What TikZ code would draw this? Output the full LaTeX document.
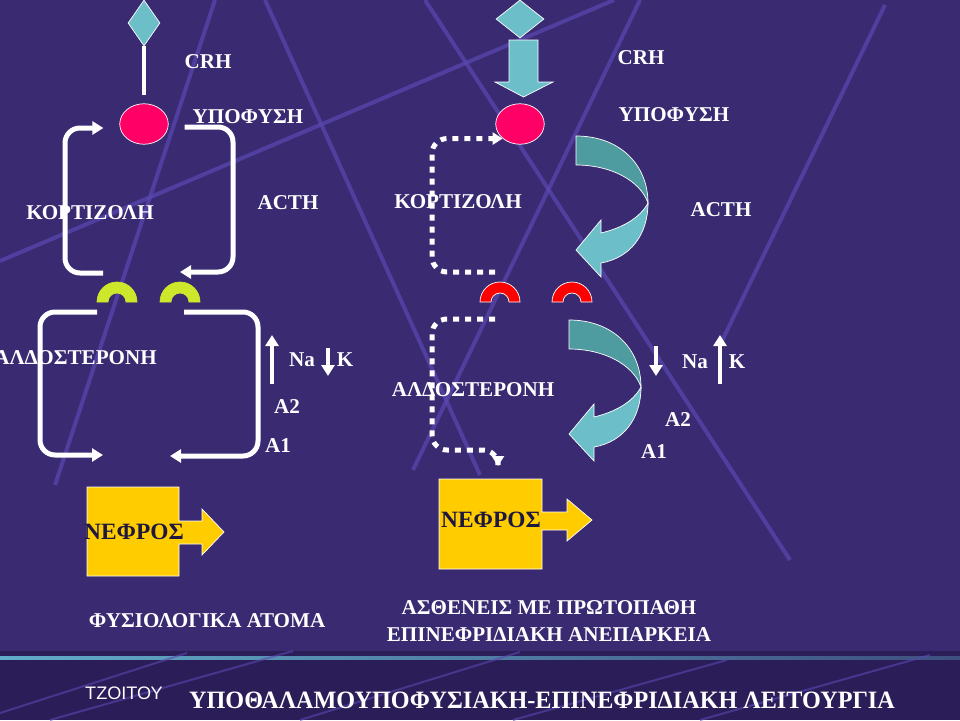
\documentclass[tikz,border=0pt]{standalone}
\usepackage{fontspec}
\setmainfont{Liberation Serif}
\setsansfont{Liberation Sans}
\newfontfamily\titlefont[FakeStretch=0.97]{Liberation Serif}
\usetikzlibrary{arrows.meta,shapes.geometric}

\definecolor{bgpurple}{HTML}{3A2A72}
\definecolor{bandpurple}{HTML}{2B1D58}
\definecolor{stripecol}{HTML}{5A48B2}
\definecolor{bandline}{HTML}{62ADC8}
\definecolor{crhteal}{HTML}{6CBFC9}
\definecolor{darkteal}{HTML}{4E9C9F}
\definecolor{hypopink}{HTML}{FF0066}
\definecolor{limegreen}{HTML}{CDE82A}
\definecolor{kidyellow}{HTML}{FFCC00}
\definecolor{kidtext}{HTML}{1E1840}

\begin{document}
\begin{tikzpicture}[x=0.02cm, y=-0.02cm,
  lbl/.style={text=white, font=\fontsize{12}{14}\selectfont\bfseries, inner sep=0pt},
  kidtxt/.style={text=kidtext, font=\fontsize{13.3}{16}\selectfont\bfseries, inner sep=0pt},
  hormone/.style={diamond, draw=white, fill=crhteal, inner sep=0pt},
  gland/.style={ellipse, draw=white, fill=hypopink, inner sep=0pt, minimum width=0.97cm, minimum height=0.81cm},
  loopline/.style={draw=white, line width=0.1cm, rounded corners=0.3cm, -{Triangle[length=0.22cm,width=0.26cm]}},
  dotloop/.style={draw=white, line width=0.1cm, rounded corners=0.3cm, dash pattern=on 0.12cm off 0.12cm, -{Triangle[length=0.2cm,width=0.24cm]}},
  ionarrow/.style={draw=white, line width=0.08cm, -{Triangle[length=0.22cm,width=0.26cm]}},
  kidney/.style={draw=white, line width=0.4pt, fill=kidyellow},
  stripe/.style={draw=stripecol, line width=0.08cm, opacity=0.7},
]
\fill[bgpurple] (0,0) rectangle (960,720);
\useasboundingbox (0,0) rectangle (960,720);
\clip (0,0) rectangle (960,720);

% background
\draw[stripe] (0,261) -- (614,0);
\draw[stripe] (425,0) -- (790,560);
\draw[stripe] (265,0) -- (480,475);
\draw[stripe] (215,0) -- (55,485);
\draw[stripe] (640,0) -- (413,470);
\draw[stripe] (885,5) -- (720,345);
\fill[bandpurple] (0,651) rectangle (960,720);
\shade[left color=bandline, right color=bandline!35!bandpurple] (0,656) rectangle (960,659);
\foreach \xa/\ya/\xb/\yb in {0/713/187/653, 50/720/293/651, 300/720/520/652, 513/720/727/660, 700/720/930/655}
  \draw[stripecol, line width=0.04cm, opacity=0.6] (\xa,\ya) -- (\xb,\yb);

% receptors
\foreach \n/\cx/\col/\edge in {r1/117/limegreen/limegreen, r2/180/limegreen/limegreen, r3/500/red/white, r4/572/red/white} {
  \filldraw[fill=\col, draw=\edge, line width=0.4pt] (\cx-20,302) arc (180:360:20) -- (\cx+9,302) arc (0:-180:9) -- cycle;
  \coordinate (\n) at (\cx,282);
}

% normal subjects
\node[hormone, minimum width=0.64cm, minimum height=0.92cm] (crh1) at (144,23) {};
\node[gland] (hypo1) at (144,124) {};
\draw[white, line width=0.08cm, shorten >=0.16cm] (crh1.south) -- (hypo1.north);
\draw[loopline] ([shift={(-14,-9)}]r1) -| (65,200) |- ([shift={(-16,4)}]hypo1.west);
\draw[loopline] ([shift={(16,3)}]hypo1.east) -| (233,200) |- ([shift={(0,-10)}]r2);
\draw[loopline] ([shift={(-20,30)}]r1) -| (40,400) |- (103,455);
\draw[loopline] ([shift={(4,30)}]r2) -| (258,400) |- (170,456);
\draw[ionarrow] (272,384) -- (272,335);
\draw[ionarrow] (328,348) -- (328,376);

\node[lbl] (crhl1) at (208,62) {CRH};
\node[lbl] (hypol1) at (248,117) {ΥΠΟΦΥΣΗ};
\node[lbl] (acth1) at (288,203) {ACTH};
\node[lbl] (cort1) at (90,213) {ΚΟΡΤΙΖΟΛΗ};
\node[lbl, anchor=east] (aldo1) at (157,358) {ΑΛΔΟΣΤΕΡΟΝΗ};
\node[lbl] (na1) at (302,360) {Na};
\node[lbl] (k1) at (345,360) {K};
\node[lbl] (a21) at (287,407) {A2};
\node[lbl] (a11) at (278,446) {A1};

\filldraw[kidney] (87,487) -- (179,487) -- (179,521) -- (202,521) -- (202,509) -- (224,532) -- (202,555) -- (202,544) -- (179,544) -- (179,576) -- (87,576) -- cycle;
\node[kidtxt] (kid1) at (134,532) {ΝΕΦΡΟΣ};
\node[lbl] (normal) at (207,621) {ΦΥΣΙΟΛΟΓΙΚΑ ΑΤΟΜΑ};

% primary adrenal insufficiency
\node[hormone, minimum width=0.96cm, minimum height=0.76cm] (crh2) at (520,19) {};
\filldraw[fill=crhteal, draw=white] (509,40) -- (538,40) -- (538,82) -- (553,82) -- (523.5,97) -- (495,82) -- (509,82) -- cycle;
\node[gland] (hypo2) at (520,124) {};
\draw[dotloop] ([shift={(-5,-10)}]r3) -| (432,200) |- (hypo2.south west);
\draw[dotloop] ([shift={(-5,37)}]r3) -| (432,400) |- (498,450) -- (498,466);
\foreach \dx/\dy in {0/0, -7/184} {
  \begin{scope}[shift={(\dx,\dy)}]
    \filldraw[fill=darkteal, draw=white, line width=0.4pt] (576,136) .. controls (620,136) and (648,165) .. (648,203)
      .. controls (640,180) and (610,165) .. (576,165) -- cycle;
    \filldraw[fill=crhteal, draw=white, line width=0.4pt] (648,203) .. controls (648,235) and (630,258) .. (601,263)
      -- (601,277) -- (576,250) -- (601,220) -- (601,233) .. controls (622,228) and (640,218) .. (648,203) -- cycle;
  \end{scope}
}
\draw[ionarrow] (656,346) -- (656,376);
\draw[ionarrow] (720,384) -- (720,335);

\node[lbl] (crhl2) at (641,58) {CRH};
\node[lbl] (hypol2) at (674,115) {ΥΠΟΦΥΣΗ};
\node[lbl] (cort2) at (458,202) {ΚΟΡΤΙΖΟΛΗ};
\node[lbl] (acth2) at (721,210) {ACTH};
\node[lbl] (aldo2) at (473,390) {ΑΛΔΟΣΤΕΡΟΝΗ};
\node[lbl] (na2) at (695,362) {Na};
\node[lbl] (k2) at (737,362) {K};
\node[lbl] (a22) at (678,420) {A2};
\node[lbl] (a12) at (654,452) {A1};

\filldraw[kidney] (439,479) -- (542,479) -- (542,512) -- (567,512) -- (567,499) -- (592,520) -- (567,541) -- (567,530) -- (542,530) -- (542,569) -- (439,569) -- cycle;
\node[kidtxt] (kid2) at (491,520) {ΝΕΦΡΟΣ};
\node[lbl, align=center, font=\fontsize{12}{15.4}\selectfont\bfseries] (patients) at (549,621) {ΑΣΘΕΝΕΙΣ ΜΕ ΠΡΩΤΟΠΑΘΗ\\ΕΠΙΝΕΦΡΙΔΙΑΚΗ ΑΝΕΠΑΡΚΕΙΑ};

% footer
\node[text=white, font=\sffamily\fontsize{10.3}{12}\selectfont, inner sep=0pt] (author) at (124,693) {ΤΖΟΙΤΟΥ};
\node[text=white, font=\titlefont\fontsize{14.2}{16}\selectfont\bfseries, inner sep=0pt] (title) at (542,700) {ΥΠΟΘΑΛΑΜΟΥΠΟΦΥΣΙΑΚΗ-ΕΠΙΝΕΦΡΙΔΙΑΚΗ ΛΕΙΤΟΥΡΓΙΑ};
\end{tikzpicture}
\end{document}
